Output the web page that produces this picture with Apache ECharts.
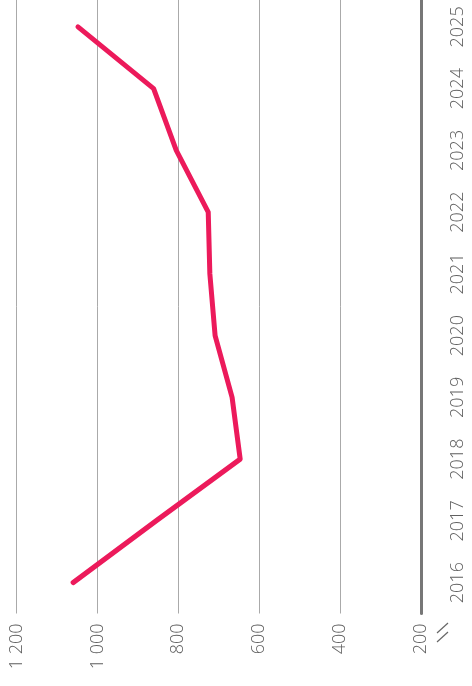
<!DOCTYPE html>
<html>
<head>
<meta charset="utf-8">
<script src="https://cdn.jsdelivr.net/npm/echarts@6/dist/echarts.min.js"></script>
<style>
html,body{margin:0;padding:0;background:#fff;}
#chart{width:472px;height:686px;}
</style>
</head>
<body>
<div id="chart"></div>
<script>
const years = ['2016','2017','2018','2019','2020','2021','2022','2023','2024','2025'];
const values = [1060, 855, 647, 667, 709, 722, 726, 805, 861, 1048];
const valueTicks = [200, 400, 600, 800, 1000, 1200];

const chart = echarts.init(document.getElementById('chart'));
const fontFam = '"Open Sans", "Noto Sans", sans-serif';
chart.setOption({
  animation: false,
  grid: {left: 16.5, right: 51, top: -4, bottom: 72.5, containLabel: false, outerBoundsMode: 'none'},
  xAxis: {
    type: 'value',
    inverse: true,
    min: valueTicks[0],
    max: valueTicks[valueTicks.length - 1],
    interval: 200,
    axisLine: {show: false},
    axisTick: {show: false},
    splitLine: {show: true, lineStyle: {color: '#aaaaaa', width: 1}},
    axisLabel: {
      rotate: 90,
      margin: 10,
      color: '#606060',
      fontSize: 18,
      fontFamily: fontFam,
      fontWeight: 300,
      formatter: function (v) {
        if (v >= 1000) { const s = String(v); return s.slice(0, s.length - 3) + ' ' + s.slice(-3); }
        return String(v);
      }
    }
  },
  yAxis: {
    type: 'category',
    position: 'right',
    data: years,
    boundaryGap: true,
    axisLine: {show: true, lineStyle: {color: '#777777', width: 3}},
    axisTick: {show: false},
    splitLine: {show: false},
    axisLabel: {
      rotate: 90,
      margin: 28,
      color: '#606060',
      fontSize: 18,
      fontFamily: fontFam,
      fontWeight: 300
    }
  },
  graphic: [
    {type: 'line', shape: {x1: 437, y1: 633, x2: 448, y2: 623}, style: {stroke: '#666666', lineWidth: 1.2}},
    {type: 'line', shape: {x1: 437, y1: 642, x2: 448, y2: 632}, style: {stroke: '#666666', lineWidth: 1.2}}
  ],
  series: [{
    type: 'line',
    data: values,
    showSymbol: false,
    lineStyle: {color: '#EC1A5B', width: 5, cap: 'round', join: 'round'}
  }]
});
</script>
</body>
</html>
